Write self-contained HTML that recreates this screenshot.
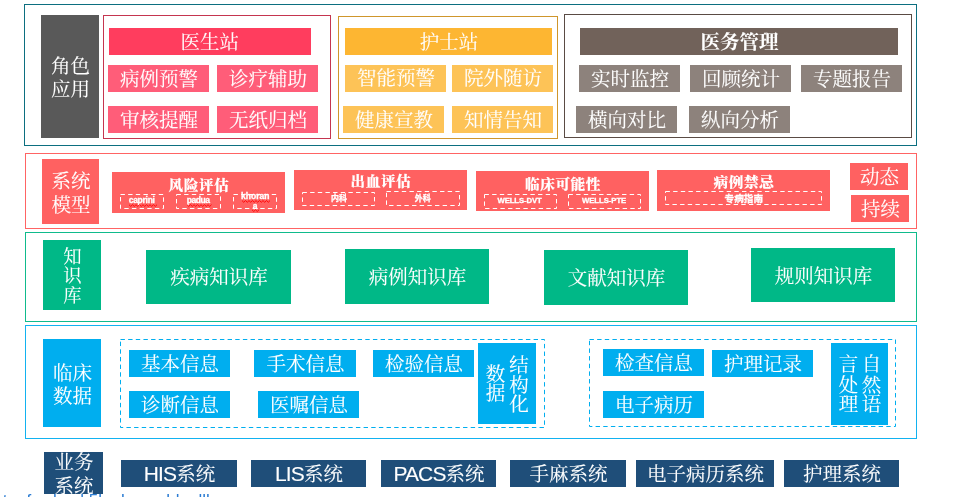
<!DOCTYPE html>
<html lang="zh-CN">
<head>
<meta charset="utf-8">
<title>系统架构</title>
<style>
html,body{margin:0;padding:0;background:#fff;}
body{width:960px;height:497px;position:relative;overflow:hidden;will-change:transform;font-family:"Liberation Sans","Noto Serif CJK SC",serif;color:#fff;font-size:19.5px;}
.f{position:absolute;box-sizing:border-box;border:1px solid #000;}
.b{position:absolute;box-sizing:border-box;padding-top:2px;display:flex;align-items:center;justify-content:center;text-align:center;white-space:nowrap;line-height:1;}
.t{position:absolute;width:120px;height:20px;display:flex;align-items:center;justify-content:center;text-align:center;white-space:nowrap;line-height:1;}
.mt{font-weight:900;font-size:14.6px;letter-spacing:0.6px;}
.s1{font-family:"Liberation Sans",sans-serif;font-weight:700;font-size:8.5px;}
.s1w{font-family:"Liberation Sans",sans-serif;font-weight:700;font-size:7.75px;}
.s2{font-family:"Liberation Sans","Noto Sans CJK SC",sans-serif;font-weight:700;font-size:8px;}
.s3{font-family:"Liberation Sans","Noto Sans CJK SC",sans-serif;font-weight:700;font-size:9.6px;}
.s1,.s1w,.s2,.s3{-webkit-text-stroke:0.3px #fff;}
.x{display:inline-block;transform:translateX(0.5px) scaleY(0.965);-webkit-text-stroke:0.1px #fff;}
.la{font-size:21px;letter-spacing:-0.9px;}
.vt{line-height:20.2px;}
.c-gray{background:#595959}
.c-red1{background:#ff3d5e}
.c-red2{background:#ff5d79}
.c-or1{background:#fdb632}
.c-or2{background:#fdc357}
.c-br1{background:#71625a}
.c-br2{background:#8d827c}
.c-sal{background:#ff6161}
.c-gr{background:#00b887}
.c-bl{background:#00aeef}
.c-nv{background:#1f4e79}
svg{position:absolute;left:0;top:0;}
svg rect{fill:none;stroke-width:1;stroke-dasharray:4.4 3.25;}
svg path{fill:none;stroke:#f00;stroke-width:0.9;}
.lnk{position:absolute;left:2.8px;top:491.3px;font-size:17px;line-height:20px;color:#2b7cd3;font-family:"Liberation Sans",sans-serif;white-space:nowrap;}
</style>
</head>
<body>
<div class="f" style="left:24px;top:4px;width:893px;height:142px;border-color:#0c6f80"></div>
<div class="b c-gray" style="left:41px;top:15px;width:58px;height:123px;line-height:23.6px;padding-top:4.4px;"><span class="x">角色<br>应用</span></div>
<div class="f" style="left:103px;top:15px;width:228px;height:124px;border-color:#c5354f"></div>
<div class="b c-red1" style="left:109px;top:28px;width:202px;height:27px;padding-right:1.4px;padding-top:3.2px;"><span class="x">医生站</span></div>
<div class="b c-red2" style="left:108px;top:65px;width:101px;height:27px;"><span class="x">病例预警</span></div>
<div class="b c-red2" style="left:217px;top:65px;width:101px;height:27px;"><span class="x">诊疗辅助</span></div>
<div class="b c-red2" style="left:108px;top:106px;width:101px;height:27px;"><span class="x">审核提醒</span></div>
<div class="b c-red2" style="left:217px;top:106px;width:101px;height:27px;"><span class="x">无纸归档</span></div>
<div class="f" style="left:338px;top:16px;width:220px;height:123px;border-color:#cf962c"></div>
<div class="b c-or1" style="left:345px;top:28px;width:207px;height:27px;padding-top:3px;"><span class="x">护士站</span></div>
<div class="b c-or2" style="left:345px;top:65px;width:101px;height:27px;padding-top:1.2px;"><span class="x">智能预警</span></div>
<div class="b c-or2" style="left:452px;top:65px;width:101px;height:27px;padding-top:1.2px;"><span class="x">院外随访</span></div>
<div class="b c-or2" style="left:343px;top:106px;width:101px;height:27px;"><span class="x">健康宣教</span></div>
<div class="b c-or2" style="left:452px;top:106px;width:101px;height:27px;"><span class="x">知情告知</span></div>
<div class="f" style="left:564px;top:14px;width:348px;height:124px;border-color:#5a4b44"></div>
<div class="b c-br1" style="left:580px;top:28px;width:318px;height:27px;font-weight:700;padding-top:3px;"><span class="x">医务管理</span></div>
<div class="b c-br2" style="left:579px;top:65px;width:101px;height:27px;"><span class="x">实时监控</span></div>
<div class="b c-br2" style="left:690px;top:65px;width:101px;height:27px;"><span class="x">回顾统计</span></div>
<div class="b c-br2" style="left:801px;top:65px;width:101px;height:27px;"><span class="x">专题报告</span></div>
<div class="b c-br2" style="left:576px;top:106px;width:101px;height:27px;"><span class="x">横向对比</span></div>
<div class="b c-br2" style="left:689px;top:106px;width:101px;height:27px;"><span class="x">纵向分析</span></div>
<div class="f" style="left:25px;top:153px;width:892px;height:76px;border-color:#ff6464"></div>
<div class="b c-sal" style="left:42px;top:159px;width:57px;height:65px;line-height:24.8px;padding-top:5px;"><span class="x">系统<br>模型</span></div>
<div class="b c-sal" style="left:112px;top:172px;width:173px;height:41px;"></div>
<div class="t" style="left:138.5px;top:174.8px;"><span class="mt x" style="">风险评估</span></div>
<div class="b c-sal" style="left:294px;top:170px;width:173px;height:40px;"></div>
<div class="t" style="left:320.5px;top:171.6px;"><span class="mt x" style="">出血评估</span></div>
<div class="b c-sal" style="left:476px;top:171px;width:173px;height:40px;"></div>
<div class="t" style="left:502.5px;top:173.8px;"><span class="mt x" style="">临床可能性</span></div>
<div class="b c-sal" style="left:657px;top:170px;width:173px;height:41px;"></div>
<div class="t" style="left:683.5px;top:172.6px;"><span class="mt x" style="">病例禁忌</span></div>
<div class="t" style="left:81.69999999999999px;top:190.3px;"><span class="s1" style="letter-spacing:-0.27px;">caprini</span></div>
<div class="t" style="left:138.1px;top:190.3px;"><span class="s1" style="letter-spacing:-0.47px;">padua</span></div>
<div class="t" style="left:195.2px;top:191.5px;"><span class="s1" style="line-height:9.75px;">khoran<br>a</span></div>
<div class="t" style="left:279px;top:189.4px;"><span class="s2" style="">内科</span></div>
<div class="t" style="left:362.8px;top:189.2px;"><span class="s2" style="">外科</span></div>
<div class="t" style="left:459.6px;top:190.7px;"><span class="s1w" style="letter-spacing:-0.11px;">WELLS-DVT</span></div>
<div class="t" style="left:544.1px;top:190.7px;"><span class="s1w" style="letter-spacing:-0.06px;">WELLS-PTE</span></div>
<div class="t" style="left:683.8px;top:188.6px;"><span class="s3" style="">专病指南</span></div>
<div class="b c-sal" style="left:850px;top:163px;width:58px;height:27px;"><span class="x">动态</span></div>
<div class="b c-sal" style="left:851px;top:195px;width:58px;height:27px;"><span class="x">持续</span></div>
<div class="f" style="left:25px;top:232px;width:892px;height:90px;border-color:#0fbb8c"></div>
<div class="b c-gr" style="left:43px;top:240px;width:58px;height:70px;line-height:20.3px;padding-top:3px;font-size:18.4px;"><span class="x">知<br>识<br>库</span></div>
<div class="b c-gr" style="left:146px;top:250px;width:145px;height:54px;padding-top:2.4px;"><span class="x">疾病知识库</span></div>
<div class="b c-gr" style="left:345px;top:249px;width:144px;height:55px;padding-top:2.4px;"><span class="x">病例知识库</span></div>
<div class="b c-gr" style="left:544px;top:250px;width:144px;height:55px;padding-top:3px;"><span class="x">文献知识库</span></div>
<div class="b c-gr" style="left:751px;top:248px;width:144px;height:54px;padding-top:3px;"><span class="x">规则知识库</span></div>
<div class="f" style="left:25px;top:325px;width:892px;height:114px;border-color:#12b2f0"></div>
<div class="b c-bl" style="left:43px;top:339px;width:58px;height:88px;line-height:24px;padding-top:4px;"><span class="x">临床<br>数据</span></div>
<div class="b c-bl" style="left:129px;top:350px;width:101px;height:27px;"><span class="x">基本信息</span></div>
<div class="b c-bl" style="left:373px;top:350px;width:101px;height:27px;"><span class="x">检验信息</span></div>
<div class="b c-bl" style="left:129px;top:391px;width:101px;height:27px;"><span class="x">诊断信息</span></div>
<div class="b c-bl" style="left:258px;top:391px;width:101px;height:27px;"><span class="x">医嘱信息</span></div>
<div class="b c-bl" style="left:254px;top:350px;width:102px;height:27px;"><span class="x">手术信息</span></div>
<div class="b c-bl" style="left:478px;top:343px;width:58px;height:81px;"></div>
<div class="t" style="left:435px;top:374.2px;"><span class="vt x" style="">数<br>据</span></div>
<div class="t" style="left:458.5px;top:374.9px;"><span class="vt x" style="">结<br>构<br>化</span></div>
<div class="b c-bl" style="left:603px;top:349px;width:101px;height:27px;"><span class="x">检查信息</span></div>
<div class="b c-bl" style="left:712px;top:350px;width:101px;height:27px;"><span class="x">护理记录</span></div>
<div class="b c-bl" style="left:603px;top:391px;width:101px;height:27px;"><span class="x">电子病历</span></div>
<div class="b c-bl" style="left:831px;top:343px;width:57px;height:82px;"></div>
<div class="t" style="left:788.1px;top:375.1px;"><span class="vt x" style="line-height:20.7px;">言<br>处<br>理</span></div>
<div class="t" style="left:811px;top:375.1px;"><span class="vt x" style="line-height:20.7px;">自<br>然<br>语</span></div>
<div class="b c-nv" style="left:44px;top:452px;width:59px;height:42px;"></div>
<div class="t" style="left:13.5px;top:464.2px;"><span class="vt x" style="line-height:24.6px;">业务<br>系统</span></div>
<div class="b c-nv" style="left:121px;top:460px;width:116px;height:27px;padding-top:1.4px;"><span class="x"><span class="la">HIS</span>系统</span></div>
<div class="b c-nv" style="left:251px;top:460px;width:115px;height:27px;padding-top:1.4px;"><span class="x"><span class="la">LIS</span>系统</span></div>
<div class="b c-nv" style="left:381px;top:460px;width:115px;height:27px;padding-top:1.4px;"><span class="x"><span class="la">PACS</span>系统</span></div>
<div class="b c-nv" style="left:510px;top:460px;width:116px;height:27px;padding-top:3px;"><span class="x">手麻系统</span></div>
<div class="b c-nv" style="left:636px;top:460px;width:138px;height:27px;padding-top:3px;"><span class="x">电子病历系统</span></div>
<div class="b c-nv" style="left:784px;top:460px;width:115px;height:27px;padding-top:3px;"><span class="x">护理系统</span></div>
<div class="lnk">taefwaloml 5lookaaacblealll</div>
<svg width="960" height="497" viewBox="0 0 960 497">
<rect x="120.5" y="194.5" width="43" height="14" stroke="#fff" stroke-dashoffset="0"/>
<path d="M129 204.7 L130.75 206.4 L132.50 204.7 L134.25 206.4 L136.00 204.7 L137.75 206.4 L139.50 204.7 L141.25 206.4 L143.00 204.7 L144.75 206.4 L146.50 204.7 L148.25 206.4 L150.00 204.7 L151.75 206.4 L153.50 204.7 L155.25 206.4 L157.00 204.7"/>
<rect x="176.5" y="194.5" width="44" height="14" stroke="#fff" stroke-dashoffset="0"/>
<path d="M187 204.7 L188.75 206.4 L190.50 204.7 L192.25 206.4 L194.00 204.7 L195.75 206.4 L197.50 204.7 L199.25 206.4 L201.00 204.7 L202.75 206.4 L204.50 204.7 L206.25 206.4 L208.00 204.7 L209.75 206.4 L211.50 204.7"/>
<rect x="233.5" y="194.5" width="43" height="14" stroke="#fff" stroke-dashoffset="0"/>
<path d="M242 200.6 L243.75 202.3 L245.50 200.6 L247.25 202.3 L249.00 200.6 L250.75 202.3 L252.50 200.6 L254.25 202.3 L256.00 200.6 L257.75 202.3 L259.50 200.6 L261.25 202.3 L263.00 200.6 L264.75 202.3 L266.50 200.6 L268.25 202.3 L270.00 200.6"/>
<path d="M252 209.8 L253.75 211.5 L255.50 209.8 L257.25 211.5 L259.00 209.8"/>
<rect x="302.5" y="192.5" width="72" height="13" stroke="#fff" stroke-dashoffset="0"/>
<rect x="386.5" y="191.5" width="73" height="14" stroke="#fff" stroke-dashoffset="0"/>
<rect x="484.5" y="194.5" width="72" height="14" stroke="#fff" stroke-dashoffset="0"/>
<rect x="568.5" y="194.5" width="72" height="14" stroke="#fff" stroke-dashoffset="0"/>
<rect x="665.5" y="191.5" width="156" height="13" stroke="#fff" stroke-dashoffset="0"/>
<rect x="120.5" y="339.5" width="424" height="88" stroke="#00aeef" stroke-dashoffset="0"/>
<rect x="589.5" y="339.5" width="306" height="87" stroke="#00aeef" stroke-dashoffset="0"/>
</svg>
</body>
</html>
